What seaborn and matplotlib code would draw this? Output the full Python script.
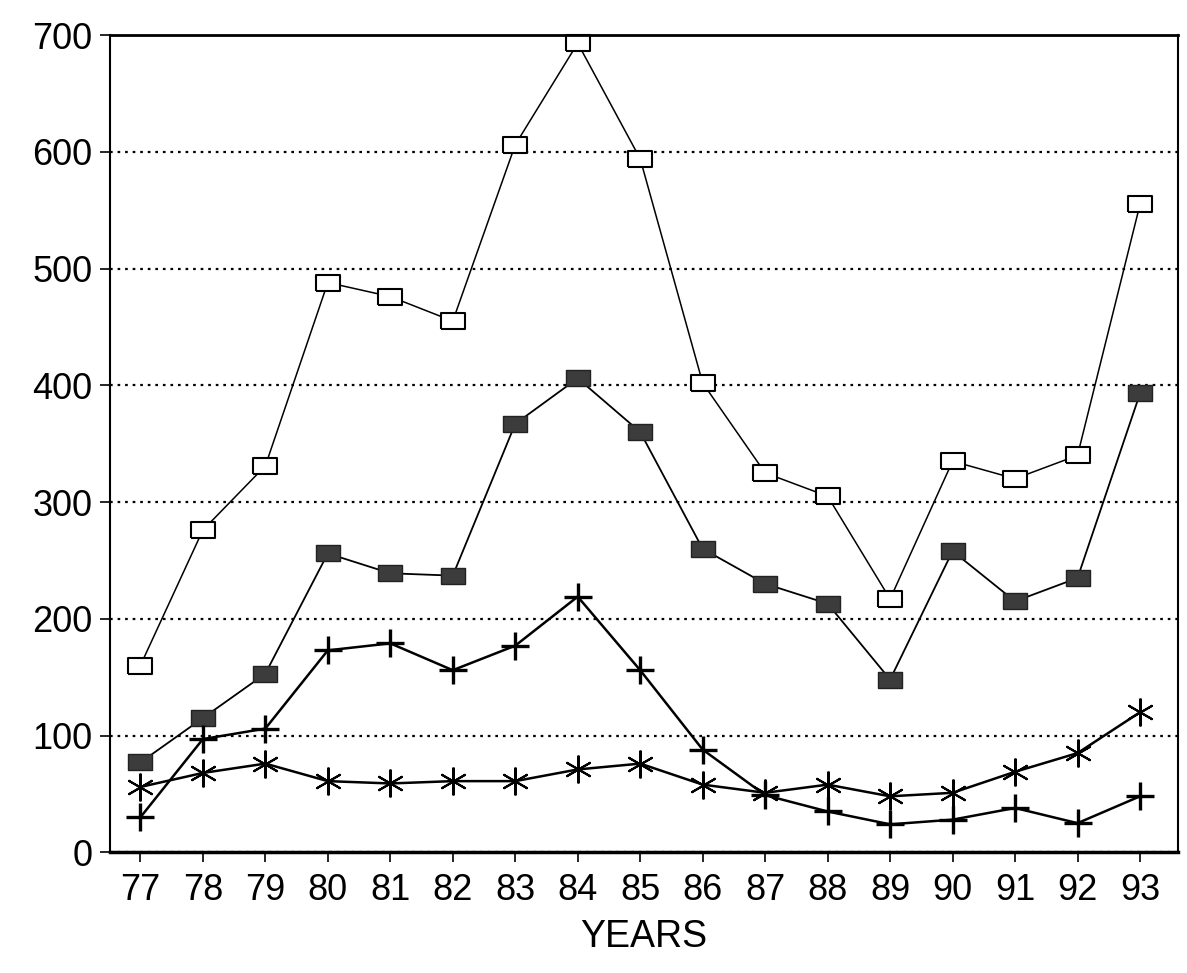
import matplotlib
matplotlib.use("Agg")
import matplotlib.pyplot as plt
import seaborn as sns
import pandas as pd

years = [77, 78, 79, 80, 81, 82, 83, 84, 85, 86, 87, 88, 89, 90, 91, 92, 93]
open_sq = [160, 276, 331, 488, 476, 455, 606, 693, 594, 402, 325, 305, 217, 335, 320, 340, 555]
filled_sq = [77, 115, 153, 256, 239, 237, 367, 406, 360, 260, 230, 213, 148, 258, 215, 235, 393]
plus_vals = [30, 97, 106, 173, 179, 156, 177, 219, 156, 88, 49, 35, 24, 28, 38, 25, 48]
aster_vals = [56, 68, 76, 61, 59, 61, 61, 71, 76, 58, 51, 58, 48, 51, 69, 85, 120]
y_ticks = [0, 100, 200, 300, 400, 500, 600, 700]
x_label = "YEARS"

sns.set_style("ticks")
plt.rcParams["font.family"] = ["Liberation Sans", "DejaVu Sans"]

fig = plt.figure(figsize=(11.87, 9.73), dpi=100)
ax = fig.add_axes([0.093, 0.124, 0.899, 0.84])

rect = [(-1.2, -0.85), (1.2, -0.85), (1.2, 0.85), (-1.2, 0.85), (-1.2, -0.85)]

common = dict(ax=ax, color="black", clip_on=False)
sns.lineplot(x=years, y=open_sq, linewidth=1.1,
             marker=rect, markersize=17, markerfacecolor="white",
             markeredgecolor="black", markeredgewidth=1.5, **common)
sns.lineplot(x=years, y=filled_sq, linewidth=1.3,
             marker=rect, markersize=17, markerfacecolor="#3c3c3c",
             markeredgecolor="#222222", markeredgewidth=1.0, **common)
sns.lineplot(x=years, y=plus_vals, linewidth=1.8,
             marker="+", markersize=20, markeredgecolor="black",
             markeredgewidth=2.4, **common)
sns.lineplot(x=years, y=aster_vals, linewidth=1.8,
             marker=(6, 2, 0), markersize=20, markeredgecolor="black",
             markeredgewidth=1.5, **common)

ax.set_xlim(76.52, 93.6)
ax.set_ylim(0, 700)
ax.set_xticks(years)
ax.set_xticklabels([str(y) for y in years])
ax.set_yticks(y_ticks)
ax.set_yticklabels([str(v) for v in y_ticks])
ax.tick_params(axis="both", labelsize=26, colors="black", direction="out",
               length=7, width=1.2, pad=6)
ax.tick_params(axis="x", pad=8)
ax.set_xlabel(x_label, fontsize=27, labelpad=8, color="black")
ax.set_ylabel("")

ax.yaxis.grid(True, linestyle=(0, (1.2, 2.2)), color="black", linewidth=1.6)
ax.xaxis.grid(False)
for side in ["left", "right", "top", "bottom"]:
    ax.spines[side].set_visible(True)
    ax.spines[side].set_color("black")
ax.spines["left"].set_linewidth(1.5)
ax.spines["right"].set_linewidth(1.5)
ax.spines["top"].set_linewidth(2.0)
ax.spines["bottom"].set_linewidth(2.5)

fig.savefig("out.png", dpi=100, facecolor="white")
